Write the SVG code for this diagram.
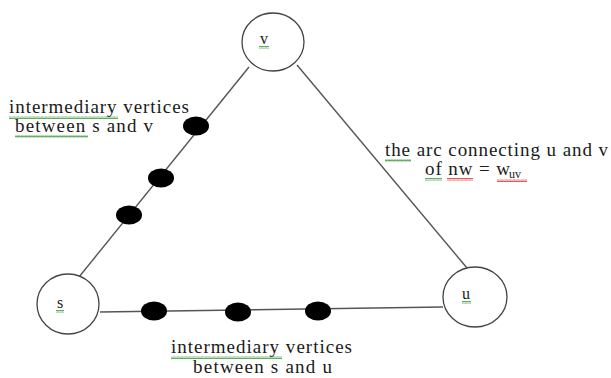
<svg xmlns="http://www.w3.org/2000/svg" width="611" height="378" viewBox="0 0 611 378">
<defs>
<style>
.node{fill:#fff;stroke:#444;stroke-width:1.3}
.edge{stroke:#555;stroke-width:1.4;fill:none}
.dot{fill:#000}
.lbl{font-family:"Liberation Serif","Times New Roman",serif;font-size:19px;fill:#1a1a1a}
.nl{font-family:"Liberation Serif","Times New Roman",serif;font-size:16px;fill:#1a1a1a;text-anchor:middle}
.sq-g{fill:url(#wg)}
.sq-r{fill:url(#wr)}
</style>
<pattern id="wg" patternUnits="userSpaceOnUse" width="4" height="3">
<path d="M0,2.5 L1,0.5 L2,2.5 L3,0.5 L4,2.5" fill="none" stroke="#3a9a3a" stroke-width="0.8"/>
</pattern>
<pattern id="wr" patternUnits="userSpaceOnUse" width="4" height="3">
<path d="M0,2.5 L1,0.5 L2,2.5 L3,0.5 L4,2.5" fill="none" stroke="#e03030" stroke-width="0.8"/>
</pattern>
</defs>
<rect width="611" height="378" fill="#fff"/>
<g id="connectors">
<line class="edge" x1="79" y1="277" x2="249" y2="67"/>
<line class="edge" x1="297" y1="65" x2="467" y2="268"/>
<line class="edge" x1="100" y1="312" x2="443" y2="307"/>
</g>
<g id="node-v">
<ellipse class="node" cx="273" cy="42" rx="31" ry="29"/>
<text class="nl" x="264" y="44">v</text>
<rect class="sq-g" x="259" y="46" width="10" height="3"/>
</g>
<g id="node-s">
<ellipse class="node" cx="68" cy="304" rx="31" ry="30"/>
<text class="nl" x="60" y="308">s</text>
<rect class="sq-g" x="56" y="310" width="8" height="3"/>
</g>
<g id="node-u">
<ellipse class="node" cx="475" cy="297" rx="32" ry="30"/>
<text class="nl" x="466" y="299">u</text>
<rect class="sq-g" x="462" y="301" width="9" height="3"/>
</g>
<g id="dots-sv">
<ellipse class="dot" cx="196" cy="126" rx="13" ry="9.5"/>
<ellipse class="dot" cx="161" cy="178" rx="13" ry="9.5"/>
<ellipse class="dot" cx="129" cy="215" rx="13" ry="9.5"/>
</g>
<g id="dots-su">
<ellipse class="dot" cx="154" cy="311" rx="13" ry="9.5"/>
<ellipse class="dot" cx="238" cy="312" rx="13" ry="9.5"/>
<ellipse class="dot" cx="318" cy="311" rx="13" ry="9.5"/>
</g>
<g id="label-sv">
<text class="lbl" x="9" y="113" textLength="180" lengthAdjust="spacing">intermediary vertices</text>
<text class="lbl" x="15" y="132" textLength="138" lengthAdjust="spacing">between s and v</text>
<rect class="sq-g" x="9" y="116" width="109" height="3"/>
<rect class="sq-g" x="15" y="135" width="73" height="3"/>
</g>
<g id="label-uv">
<text class="lbl" x="385" y="156" textLength="223" lengthAdjust="spacing">the arc connecting u and v</text>
<text class="lbl" x="425" y="175" textLength="85" lengthAdjust="spacing">of nw = w</text>
<text class="lbl" x="509" y="178" style="font-size:12px">uv</text>
<rect class="sq-g" x="385" y="159" width="26" height="3"/>
<rect class="sq-g" x="425" y="178" width="17" height="3"/>
<rect class="sq-r" x="447" y="178" width="26" height="3"/>
<rect class="sq-r" x="497" y="179" width="30" height="3"/>
</g>
<g id="label-su">
<text class="lbl" x="171" y="353" textLength="181" lengthAdjust="spacing">intermediary vertices</text>
<text class="lbl" x="193" y="373" textLength="139" lengthAdjust="spacing">between s and u</text>
<rect class="sq-g" x="171" y="356" width="111" height="3"/>
</g>
</svg>
